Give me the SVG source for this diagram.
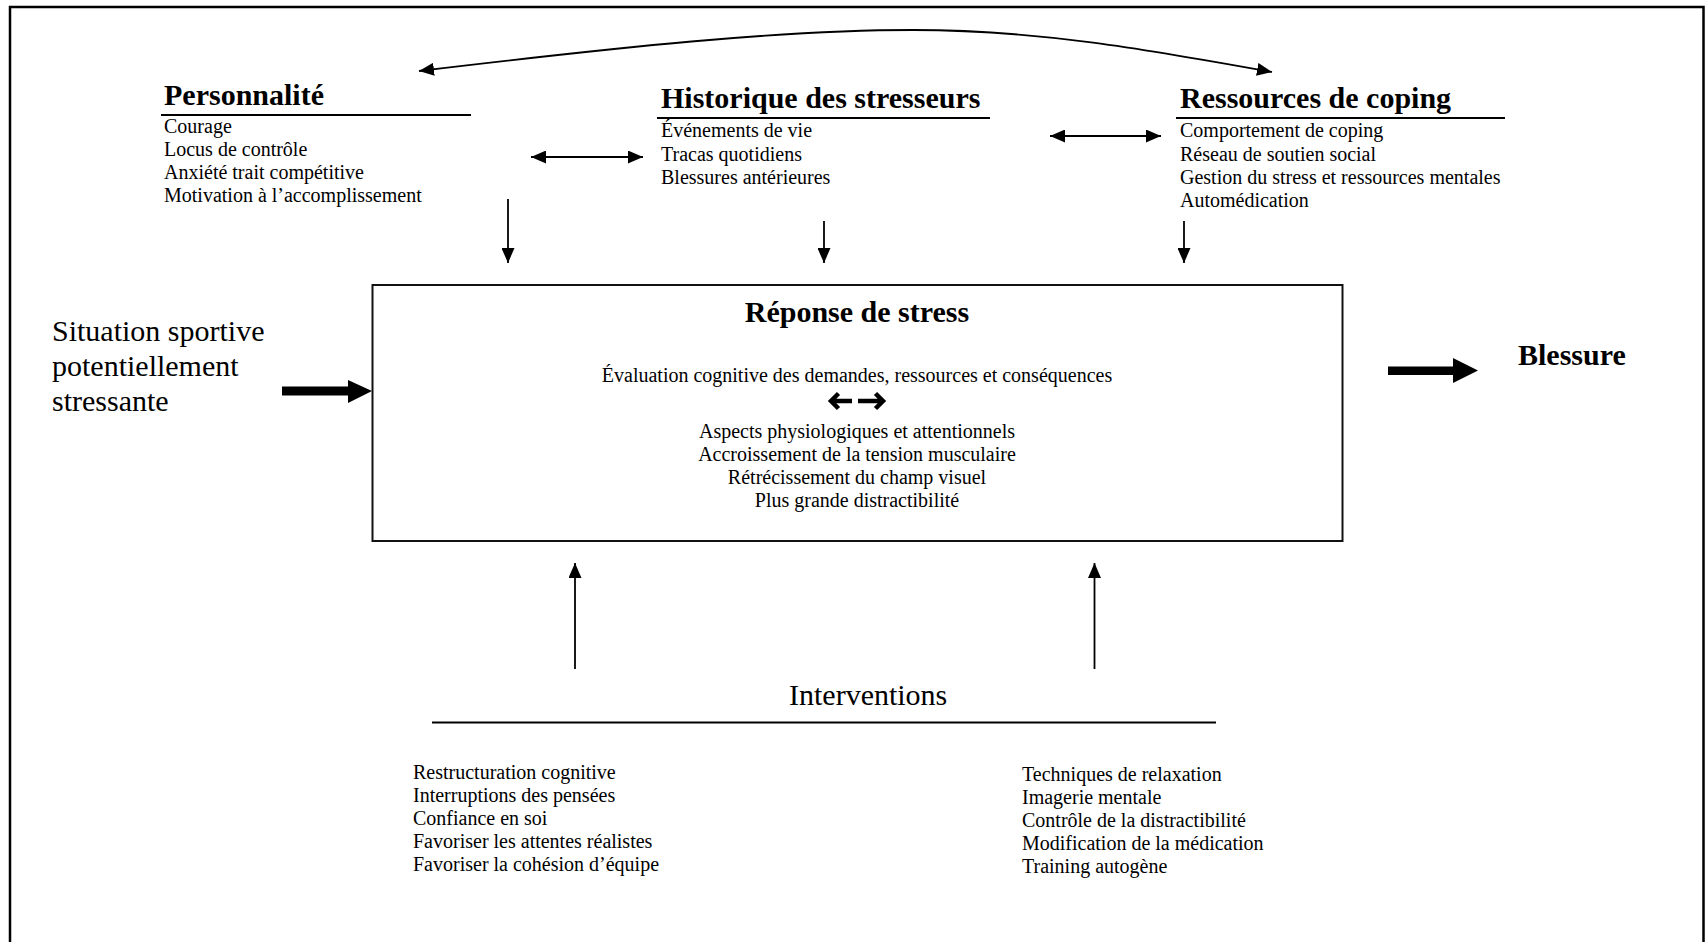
<svg xmlns="http://www.w3.org/2000/svg" width="1706" height="942" viewBox="0 0 1706 942">
<style>
text { font-family: "Liberation Serif", "Times New Roman", serif; fill: #000; }
.h { font-size: 30px; font-weight: bold; }
.big { font-size: 30px; }
.it { font-size: 20px; }
.c { text-anchor: middle; }
.ln { stroke: #000; stroke-width: 1.8; fill: none; }
.ul { stroke: #000; stroke-width: 2.2; }
</style>
<defs>
<marker id="ah" markerUnits="userSpaceOnUse" markerWidth="15" markerHeight="13" refX="15" refY="6.5" orient="auto-start-reverse">
<path d="M0,0 L15,6.5 L0,13 z" fill="#000"/>
</marker>
</defs>
<rect width="1706" height="942" fill="#fff"/>
<g id="frame">
<path d="M10,942 L10,7 L1703.5,7 L1703.5,942" fill="none" stroke="#000" stroke-width="2.5"/>
</g>
<g id="personnalite">
<text class="h" x="164" y="105">Personnalité</text>
<line class="ul" x1="161" y1="115" x2="471" y2="115"/>
<text class="it" x="164" y="133">Courage</text>
<text class="it" x="164" y="156">Locus de contrôle</text>
<text class="it" x="164" y="179">Anxiété trait compétitive</text>
<text class="it" x="164" y="202">Motivation à l’accomplissement</text>
</g>
<g id="historique">
<text class="h" x="661" y="108">Historique des stresseurs</text>
<line class="ul" x1="657" y1="118" x2="990" y2="118"/>
<text class="it" x="661" y="137">Événements de vie</text>
<text class="it" x="661" y="160.5">Tracas quotidiens</text>
<text class="it" x="661" y="184">Blessures antérieures</text>
</g>
<g id="ressources">
<text class="h" x="1180" y="108">Ressources de coping</text>
<line class="ul" x1="1176" y1="118" x2="1505" y2="118"/>
<text class="it" x="1180" y="137">Comportement de coping</text>
<text class="it" x="1180" y="160.5">Réseau de soutien social</text>
<text class="it" x="1180" y="184">Gestion du stress et ressources mentales</text>
<text class="it" x="1180" y="207">Automédication</text>
</g>
<g id="situation">
<text class="big" x="52" y="341">Situation sportive</text>
<text class="big" x="52" y="376">potentiellement</text>
<text class="big" x="52" y="411">stressante</text>
</g>
<g id="reponse">
<rect x="372.5" y="285" width="970" height="256" fill="none" stroke="#111" stroke-width="2"/>
<text class="h c" x="857" y="322">Réponse de stress</text>
<text class="it c" x="857" y="382">Évaluation cognitive des demandes, ressources et conséquences</text>
<path d="M852,401 L831,401 M838.5,393.5 L831,401 L838.5,408.5" fill="none" stroke="#000" stroke-width="4.5" stroke-linejoin="miter"/>
<path d="M858,401 L883,401 M875.5,393.5 L883,401 L875.5,408.5" fill="none" stroke="#000" stroke-width="4.5" stroke-linejoin="miter"/>
<text class="it c" x="857" y="438">Aspects physiologiques et attentionnels</text>
<text class="it c" x="857" y="461">Accroissement de la tension musculaire</text>
<text class="it c" x="857" y="484">Rétrécissement du champ visuel</text>
<text class="it c" x="857" y="507">Plus grande distractibilité</text>
</g>
<g id="blessure">
<text class="h" x="1518" y="365">Blessure</text>
</g>
<g id="interventions">
<text class="big" x="789" y="705">Interventions</text>
<line class="ul" x1="432" y1="722.5" x2="1216" y2="722.5"/>
<text class="it" x="413" y="779">Restructuration cognitive</text>
<text class="it" x="413" y="802">Interruptions des pensées</text>
<text class="it" x="413" y="825">Confiance en soi</text>
<text class="it" x="413" y="848">Favoriser les attentes réalistes</text>
<text class="it" x="413" y="871">Favoriser la cohésion d’équipe</text>
<text class="it" x="1022" y="781">Techniques de relaxation</text>
<text class="it" x="1022" y="804">Imagerie mentale</text>
<text class="it" x="1022" y="827">Contrôle de la distractibilité</text>
<text class="it" x="1022" y="850">Modification de la médication</text>
<text class="it" x="1022" y="873">Training autogène</text>
</g>
<g id="connectors">
<path class="ln" d="M419,71 C620,47 780,30 913,30 C1040,30 1150,50 1272,72" marker-start="url(#ah)" marker-end="url(#ah)"/>
<line class="ln" x1="531" y1="157" x2="643" y2="157" marker-start="url(#ah)" marker-end="url(#ah)"/>
<line class="ln" x1="1050" y1="136" x2="1161" y2="136" marker-start="url(#ah)" marker-end="url(#ah)"/>
<line class="ln" x1="508" y1="199" x2="508" y2="263" marker-end="url(#ah)"/>
<line class="ln" x1="824" y1="221" x2="824" y2="263" marker-end="url(#ah)"/>
<line class="ln" x1="1184" y1="221" x2="1184" y2="263" marker-end="url(#ah)"/>
<line class="ln" x1="575" y1="669" x2="575" y2="563" marker-end="url(#ah)"/>
<line class="ln" x1="1094.5" y1="669" x2="1094.5" y2="563" marker-end="url(#ah)"/>
<path d="M282,386.5 L348,386.5 L348,380 L372,391 L348,403 L348,395.5 L282,395.5 z" fill="#000"/>
<path d="M1388,366.5 L1453,366.5 L1453,358 L1478,370.5 L1453,383 L1453,375 L1388,375 z" fill="#000"/>
</g>
</svg>
